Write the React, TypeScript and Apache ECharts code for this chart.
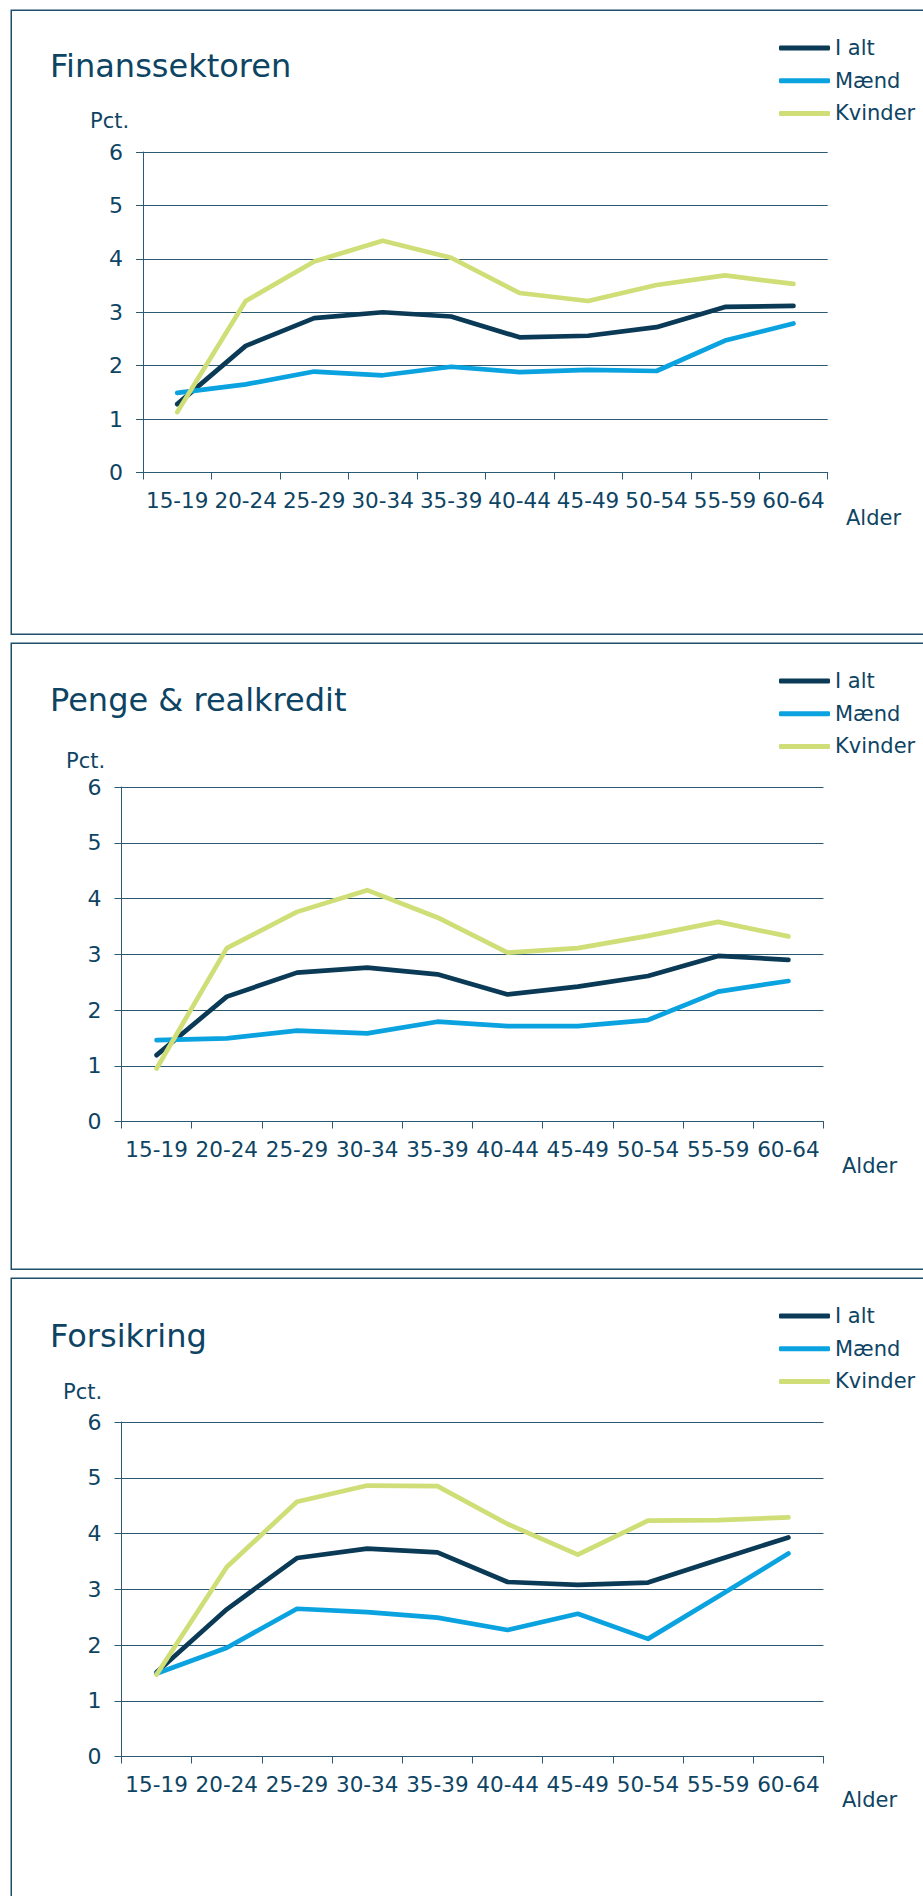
import React, { useEffect, useRef } from "react";
import * as echarts from "echarts";

const ageGroups = ["15-19", "20-24", "25-29", "30-34", "35-39", "40-44", "45-49", "50-54", "55-59", "60-64"];
const seriesNames = ["I alt", "Mænd", "Kvinder"];
const yTicks = [0, 1, 2, 3, 4, 5, 6];

const panelTitles = ["Finanssektoren", "Penge & realkredit", "Forsikring"];

const finansIAlt = [1.28, 2.37, 2.89, 3.0, 2.92, 2.53, 2.56, 2.72, 3.1, 3.12];
const finansMaend = [1.49, 1.65, 1.89, 1.82, 1.98, 1.88, 1.92, 1.9, 2.47, 2.79];
const finansKvinder = [1.13, 3.21, 3.95, 4.34, 4.02, 3.36, 3.21, 3.51, 3.69, 3.53];

const pengeIAlt = [1.19, 2.24, 2.67, 2.76, 2.64, 2.28, 2.42, 2.61, 2.97, 2.9];
const pengeMaend = [1.46, 1.49, 1.63, 1.58, 1.79, 1.71, 1.71, 1.82, 2.33, 2.52];
const pengeKvinder = [0.95, 3.11, 3.76, 4.15, 3.66, 3.03, 3.11, 3.33, 3.58, 3.32];

const forsIAlt = [1.51, 2.64, 3.56, 3.73, 3.66, 3.13, 3.08, 3.12, 3.53, 3.93];
const forsMaend = [1.49, 1.95, 2.65, 2.59, 2.49, 2.27, 2.56, 2.11, 2.87, 3.64];
const forsKvinder = [1.47, 3.4, 4.57, 4.86, 4.85, 4.17, 3.62, 4.23, 4.24, 4.29];

const panelData = [
  [finansIAlt, finansMaend, finansKvinder],
  [pengeIAlt, pengeMaend, pengeKvinder],
  [forsIAlt, forsMaend, forsKvinder],
];

const FONT = "'DejaVu Sans', Verdana, sans-serif";
const TEXT = "#0e4463";
const GRID = "#2c5a75";
const COLORS = ["#0b3a56", "#0ba2e0", "#cfde77"];

// layout (positions only)
const panels = [
  { boxTop: 10, boxH: 624, titleTop: 48, legendTop: 36, pct: [90, 121], alder: [846, 518], grid: { left: 143, top: 152, width: 684.7, height: 320.5 } },
  { boxTop: 643, boxH: 626, titleTop: 682.3, legendTop: 669, pct: [66, 760.8], alder: [842, 1165.7], grid: { left: 121.5, top: 787, width: 702, height: 334.5 } },
  { boxTop: 1278, boxH: 700, titleTop: 1317.5, legendTop: 1304, pct: [63, 1391.8], alder: [842, 1800], grid: { left: 121.5, top: 1422, width: 702, height: 334.5 } },
];

export default function App() {
  const ref = useRef<HTMLDivElement>(null);

  useEffect(() => {
    document.body.style.margin = "0";
    document.body.style.overflow = "hidden";
    const chart = echarts.init(ref.current!, null, { renderer: "svg" });

    const option: any = {
      animation: false,
      backgroundColor: "#ffffff",
      title: panels.map((p, i) => ({
        text: panelTitles[i],
        left: 50,
        top: p.titleTop,
        padding: 0,
        textStyle: { fontFamily: FONT, fontSize: 32, fontWeight: "normal", color: TEXT, lineHeight: 36 },
      })),
      legend: panels.map((p) => ({
        orient: "vertical",
        left: 779,
        top: p.legendTop,
        padding: 0,
        itemWidth: 51,
        itemHeight: 5,
        itemGap: 8.7,
        icon: "roundRect",
        data: seriesNames,
        selectedMode: false,
        textStyle: { fontFamily: FONT, fontSize: 21, color: TEXT, lineHeight: 24 },
      })),
      grid: panels.map((p) => ({ ...p.grid, containLabel: false })),
      xAxis: panels.map((_, i) => ({
        type: "category",
        gridIndex: i,
        data: ageGroups,
        boundaryGap: true,
        axisLine: { show: true, lineStyle: { color: GRID, width: 1 } },
        axisTick: { show: true, length: 7, interval: 0, lineStyle: { color: GRID, width: 1 } },
        axisLabel: { interval: 0, margin: 17, fontFamily: FONT, fontSize: 21.5, color: TEXT, lineHeight: 22 },
        splitLine: { show: false },
      })),
      yAxis: panels.map((_, i) => ({
        type: "value",
        gridIndex: i,
        min: yTicks[0],
        max: yTicks[yTicks.length - 1],
        interval: 1,
        axisLine: { show: true, lineStyle: { color: GRID, width: 1 } },
        axisTick: { show: true, length: 7, lineStyle: { color: GRID, width: 1 } },
        axisLabel: { margin: 20, fontFamily: FONT, fontSize: 22, color: TEXT },
        splitLine: { show: true, lineStyle: { color: GRID, width: 1 } },
      })),
      series: panelData.flatMap((sets, pi) =>
        sets.map((vals, si) => ({
          type: "line",
          name: seriesNames[si],
          xAxisIndex: pi,
          yAxisIndex: pi,
          data: vals,
          symbol: "none",
          color: COLORS[si],
          lineStyle: { color: COLORS[si], width: 4.7, cap: "round", join: "round" },
          emphasis: { disabled: true },
          z: 2 + si,
        }))
      ),
      graphic: [
        ...panels.map((p) => ({
          type: "rect",
          shape: { x: 11.25, y: p.boxTop + 0.25, width: 940, height: p.boxH },
          style: { fill: "none", stroke: "#1f4f6b", lineWidth: 1.5 },
          silent: true,
          z: -10,
        })),
        ...panels.map((p) => ({
          type: "text",
          x: p.pct[0],
          y: p.pct[1],
          style: { text: "Pct.", fontFamily: FONT, fontSize: 21, fill: TEXT, verticalAlign: "middle", align: "left" },
          silent: true,
        })),
        ...panels.map((p) => ({
          type: "text",
          x: p.alder[0],
          y: p.alder[1],
          style: { text: "Alder", fontFamily: FONT, fontSize: 21, fill: TEXT, verticalAlign: "middle", align: "left" },
          silent: true,
        })),
      ],
    };

    chart.setOption(option);
    return () => chart.dispose();
  }, []);

  return (
    <div style={{ position: "relative", width: 923, height: 1896, overflow: "hidden", background: "#fff" }}>
      <div ref={ref} style={{ position: "absolute", left: 0, top: 0, width: 923, height: 1896 }} />
    </div>
  );
}
